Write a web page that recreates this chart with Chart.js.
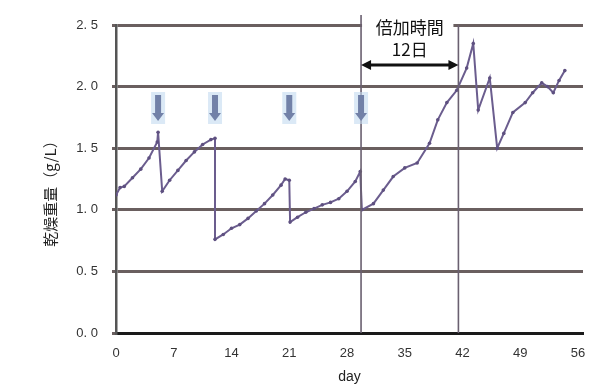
<!DOCTYPE html>
<html>
<head>
<meta charset="utf-8">
<script src="https://cdn.jsdelivr.net/npm/chart.js@4/dist/chart.umd.min.js"></script>
<style>
  html, body { margin: 0; padding: 0; background: #ffffff; }
  #wrap { width: 605px; height: 387px; position: relative; }
</style>
</head>
<body>
<div id="wrap"><canvas id="c" width="605" height="387"></canvas></div>
<script>
// Culture day and dry weight (g/L)
const days = [
  0, 0.5, 1, 2, 3, 4, 5, 5.1,
  5.6, 6.5, 7.5, 8.5, 9.5, 10.5, 11.5, 12,
  12, 13, 14, 15, 16, 17, 18, 19, 20, 20.5, 21,
  21.1, 22, 23, 24, 25, 26, 27, 28, 29, 29.6,
  29.8, 31.2, 32.4, 33.6, 35, 36.5, 38, 39, 40.1, 41.3, 42.5, 43.3,
  43.9, 45.3, 46.2, 47, 48.1, 49.6, 50.5, 51.6, 52.3, 53, 53.7, 54.4
];
const dryWeight = [
  1.12, 1.18, 1.19, 1.26, 1.33, 1.42, 1.55, 1.63,
  1.15, 1.24, 1.32, 1.40, 1.47, 1.53, 1.57, 1.58,
  0.76, 0.80, 0.85, 0.88, 0.93, 0.99, 1.05, 1.12, 1.20, 1.25, 1.24,
  0.90, 0.94, 0.98, 1.01, 1.04, 1.06, 1.09, 1.15, 1.23, 1.31,
  1.00, 1.05, 1.16, 1.27, 1.34, 1.38, 1.54, 1.73, 1.87, 1.97, 2.15, 2.35,
  1.81, 2.07, 1.50, 1.62, 1.79, 1.87, 1.95, 2.03, 2.00, 1.95, 2.05, 2.13
];
const xTicks = [0, 7, 14, 21, 28, 35, 42, 49, 56];
const yTicks = [0, 0.5, 1.0, 1.5, 2.0, 2.5];
const feedDays = [5.1, 12, 21, 29.7];       // downward arrows
const doublingSpan = [29.7, 41.5];          // doubling-time bracket
const doublingLabel = ['倍加時間', '12日'];
const yTitle = '乾燥重量（g/L）';

const data = days.map((d, i) => ({ x: d, y: dryWeight[i] }));

// Extra drawing: bracket lines, doubling arrow, label box, feed arrows, y title
const overlay = {
  id: 'overlay',
  afterDatasetsDraw(chart) {
    const { ctx, chartArea, scales } = chart;
    const xs = scales.x;
    ctx.save();

    const x0 = xs.getPixelForValue(doublingSpan[0]);
    const x1 = xs.getPixelForValue(doublingSpan[1]);

    // label box
    ctx.fillStyle = '#ffffff';
    ctx.fillRect(x0 + 1, chartArea.top - 13, x1 - x0 - 6, 50);

    // vertical reference lines
    ctx.strokeStyle = '#6a6070';
    ctx.lineWidth = 1.6;
    ctx.beginPath();
    ctx.moveTo(x0, chartArea.top - 10);
    ctx.lineTo(x0, chartArea.bottom);
    ctx.moveTo(x1, chartArea.top);
    ctx.lineTo(x1, chartArea.bottom);
    ctx.stroke();

    ctx.fillStyle = '#111111';
    ctx.font = '17px "Noto Sans CJK JP"';
    ctx.textAlign = 'center';
    ctx.textBaseline = 'middle';
    const cx = (x0 + x1) / 2;
    ctx.fillText(doublingLabel[0], cx, chartArea.top + 3);
    ctx.fillText(doublingLabel[1], cx, chartArea.top + 25);

    // double-headed arrow
    const ay = chartArea.top + 40;
    ctx.strokeStyle = '#111111';
    ctx.lineWidth = 3;
    ctx.beginPath();
    ctx.moveTo(x0 + 6, ay);
    ctx.lineTo(x1 - 6, ay);
    ctx.stroke();
    ctx.beginPath();
    ctx.moveTo(x0, ay); ctx.lineTo(x0 + 10, ay - 5); ctx.lineTo(x0 + 10, ay + 5); ctx.closePath();
    ctx.fill();
    ctx.beginPath();
    ctx.moveTo(x1, ay); ctx.lineTo(x1 - 10, ay - 5); ctx.lineTo(x1 - 10, ay + 5); ctx.closePath();
    ctx.fill();

    // feed arrows
    feedDays.forEach(d => {
      const px = xs.getPixelForValue(d);
      const top = chartArea.top + 70, bot = chartArea.top + 96;
      ctx.fillStyle = 'rgba(195,218,240,0.6)';
      ctx.fillRect(px - 7, top - 3, 14, bot - top + 6);
      ctx.fillStyle = '#7281a8';
      ctx.fillRect(px - 3, top, 6, bot - top - 7);
      ctx.beginPath();
      ctx.moveTo(px - 6, bot - 8); ctx.lineTo(px + 6, bot - 8); ctx.lineTo(px, bot); ctx.closePath();
      ctx.fill();
    });

    // y-axis title
    ctx.translate(50, 190);
    ctx.rotate(-Math.PI / 2);
    ctx.fillStyle = '#222222';
    ctx.font = '15px "Noto Sans CJK JP"';
    ctx.fillText(yTitle, 0, 0);

    ctx.restore();
  }
};

new Chart(document.getElementById('c'), {
  type: 'line',
  data: {
    datasets: [{
      data: data,
      borderColor: '#6b5d8e',
      backgroundColor: '#5e5080',
      borderWidth: 2,
      pointRadius: 1.8,
      pointBorderWidth: 0,
      tension: 0,
      fill: false
    }]
  },
  options: {
    responsive: false,
    animation: false,
    layout: { padding: { top: 25, right: 22, left: 0, bottom: 0 } },
    plugins: { legend: { display: false }, tooltip: { enabled: false } },
    scales: {
      x: {
        type: 'linear',
        min: 0,
        max: 56.6,
        afterFit(scale) { scale.height = 54; },
        afterBuildTicks(scale) { scale.ticks = xTicks.map(v => ({ value: v })); },
        grid: { display: false, drawTicks: false },
        border: { display: true, color: '#1a1a1a', width: 3 },
        ticks: { padding: 13, color: '#333333', font: { family: 'Liberation Sans', size: 13 } },
        title: {
          display: true, text: 'day', color: '#222222',
          font: { family: 'Liberation Sans', size: 14 },
          padding: { top: 0, bottom: 1 }
        }
      },
      y: {
        min: 0,
        max: 2.5,
        afterFit(scale) { scale.width = 116; },
        afterBuildTicks(scale) { scale.ticks = yTicks.map(v => ({ value: v })); },
        grid: { color: '#6a5f5f', lineWidth: 3, drawTicks: true, tickLength: 4 },
        border: { display: true, color: '#555555', width: 2.5 },
        ticks: {
          padding: 14, color: '#333333',
          font: { family: 'Liberation Sans', size: 13 },
          callback: v => v.toFixed(1).replace('.', '. ')
        },
        title: { display: false }
      }
    }
  },
  plugins: [overlay]
});
</script>
</body>
</html>
